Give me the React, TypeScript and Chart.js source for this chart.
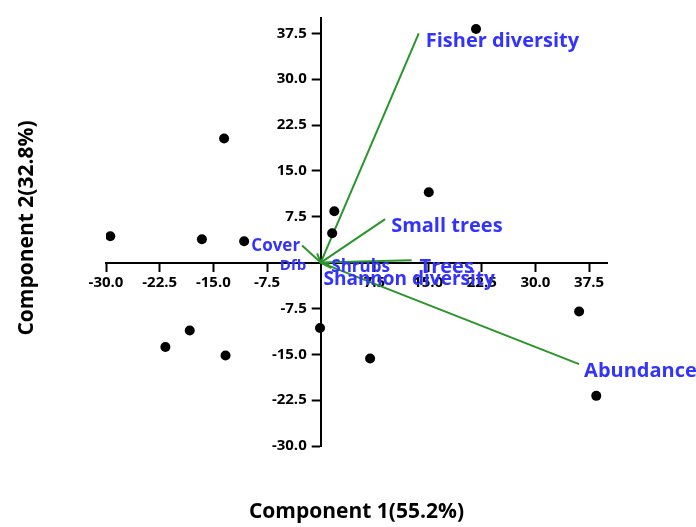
import React, { useEffect, useRef } from 'react';
import { Chart, registerables } from 'chart.js';

Chart.register(...registerables);

// Site scores (Component 1, Component 2)
const siteX = [-29.4, -16.6, -10.7, -13.5, 1.9, 1.6, 21.7, 15.1, 36.1, 38.5, 6.9, -0.1, -18.3, -21.7, -13.3];
const siteY = [4.3, 3.8, 3.5, 20.3, 8.4, 4.8, 38.2, 11.5, -8.0, -21.8, -15.7, -10.7, -11.1, -13.8, -15.2];

// Variable loadings (vectors from the origin)
const varNames = ['Fisher diversity', 'Small trees', 'Trees', 'Abundance', 'Cover', 'Dfb', 'Shrubs', 'Shannon diversity'];
const varX = [13.7, 9.0, 12.7, 36.1, -2.6, -0.5, 1.2, 1.5];
const varY = [37.5, 7.1, 0.4, -16.6, 2.8, 1.5, -0.3, -0.9];

// Axis ticks
const tickValues = [-30, -22.5, -15, -7.5, 7.5, 15, 22.5, 30, 37.5];
const axisMin = -30;
const axisMax = 40;

const xTitle = 'Component 1(55.2%)';
const yTitle = 'Component 2(32.8%)';

// Label styling (pixel offsets from the vector tip, font size, alignment)
const labelStyle: Record<string, { dx: number; dy: number; size: number; align: CanvasTextAlign }> = {
  'Fisher diversity': { dx: 7, dy: 8, size: 20, align: 'left' },
  'Small trees': { dx: 6, dy: 7, size: 20, align: 'left' },
  'Trees': { dx: 8, dy: 7, size: 20, align: 'left' },
  'Abundance': { dx: 5, dy: 7, size: 20, align: 'left' },
  'Cover': { dx: -2, dy: 1, size: 17, align: 'right' },
  'Dfb': { dx: -11, dy: 12, size: 15, align: 'right' },
  'Shrubs': { dx: 2, dy: 3, size: 17, align: 'left' },
  'Shannon diversity': { dx: -8, dy: 12, size: 19, align: 'left' },
};

const FONT = '"Open Sans", "DejaVu Sans", sans-serif';
const LABEL_BLUE = '#3333ff';
const VECTOR_GREEN = '#2a952a';

const textPlugin = {
  id: 'biplotText',
  afterLayout(chart: any) {
    // put the vertical axis through x = 0
    const ys = chart.scales.y;
    const x0 = chart.scales.x.getPixelForValue(0);
    ys.right = x0;
    ys.left = x0 - 90;
    ys.width = 90;
  },
  afterDatasetsDraw(chart: any) {
    const ctx = chart.ctx;
    const xs = chart.scales.x;
    const ys = chart.scales.y;
    ctx.save();
    ctx.fillStyle = LABEL_BLUE;
    ctx.textBaseline = 'middle';
    varNames.forEach((name, i) => {
      const st = labelStyle[name];
      const px = xs.getPixelForValue(varX[i]) + st.dx;
      const py = ys.getPixelForValue(varY[i]) + st.dy;
      ctx.font = `bold ${st.size}px ${FONT}`;
      ctx.textAlign = st.align;
      ctx.fillText(name, px, py);
    });
    ctx.restore();
  },
  afterDraw(chart: any) {
    const ctx = chart.ctx;
    const area = chart.chartArea;
    ctx.save();
    ctx.fillStyle = '#000';
    ctx.font = `bold 21px ${FONT}`;
    ctx.textAlign = 'center';
    ctx.textBaseline = 'middle';
    ctx.fillText(xTitle, (area.left + area.right) / 2, 512);
    ctx.translate(27, (area.top + area.bottom) / 2 - 4);
    ctx.rotate(-Math.PI / 2);
    ctx.fillText(yTitle, 0, 0);
    ctx.restore();
  },
};

export default function App() {
  const canvasRef = useRef<HTMLCanvasElement | null>(null);

  useEffect(() => {
    const canvas = canvasRef.current;
    if (!canvas) return;

    const vectorSets = varNames.map((name, i) => ({
      label: name,
      data: [
        { x: 0, y: 0 },
        { x: varX[i], y: varY[i] },
      ],
      showLine: true,
      borderColor: VECTOR_GREEN,
      borderWidth: 2,
      pointRadius: 0,
      fill: false,
      order: 2,
    }));

    const siteSet = {
      label: 'Sites',
      data: siteX.map((x, i) => ({ x, y: siteY[i] })),
      showLine: false,
      pointRadius: 5,
      pointBackgroundColor: '#000',
      pointBorderColor: '#000',
      pointBorderWidth: 0,
      order: 1,
    };

    const setTicks = (scale: any) => {
      scale.ticks = tickValues.map((v) => ({ value: v }));
    };

    const chart = new Chart(canvas, {
      type: 'scatter',
      data: { datasets: [...vectorSets, siteSet] as any },
      options: {
        responsive: false,
        animation: false,
        devicePixelRatio: 1,
        layout: { padding: { left: 106, right: 89, top: 18, bottom: 81 } },
        plugins: {
          legend: { display: false },
          tooltip: { enabled: false },
        },
        scales: {
          x: {
            type: 'linear',
            position: { y: 0 } as any,
            min: axisMin,
            max: axisMax,
            afterBuildTicks: setTicks,
            border: { display: true, color: '#000', width: 2 },
            grid: {
              display: true,
              drawOnChartArea: false,
              drawTicks: true,
              tickLength: 8,
              tickWidth: 2,
              tickColor: '#000',
            },
            ticks: {
              autoSkip: false,
              maxRotation: 0,
              padding: 3,
              color: '#000',
              font: { family: FONT, size: 15, weight: 'bold' },
              callback: (v: any) => Number(v).toFixed(1),
            },
          },
          y: {
            type: 'linear',
            position: 'left',
            min: axisMin,
            max: axisMax,
            afterBuildTicks: setTicks,
            afterFit: (scale: any) => {
              scale.width = 0;
            },
            border: { display: true, color: '#000', width: 2 },
            grid: {
              display: true,
              drawOnChartArea: false,
              drawTicks: true,
              tickLength: 9,
              tickWidth: 2,
              tickColor: '#000',
            },
            ticks: {
              autoSkip: false,
              padding: 5,
              color: '#000',
              font: { family: FONT, size: 15, weight: 'bold' },
              callback: (v: any) => Number(v).toFixed(1),
            },
          },
        },
      } as any,
      plugins: [textPlugin],
    });

    return () => chart.destroy();
  }, []);

  return (
    <div style={{ position: 'absolute', left: 0, top: 0, width: 696, height: 527, background: '#fff' }}>
      <canvas ref={canvasRef} width={696} height={527} style={{ display: 'block' }} />
    </div>
  );
}
